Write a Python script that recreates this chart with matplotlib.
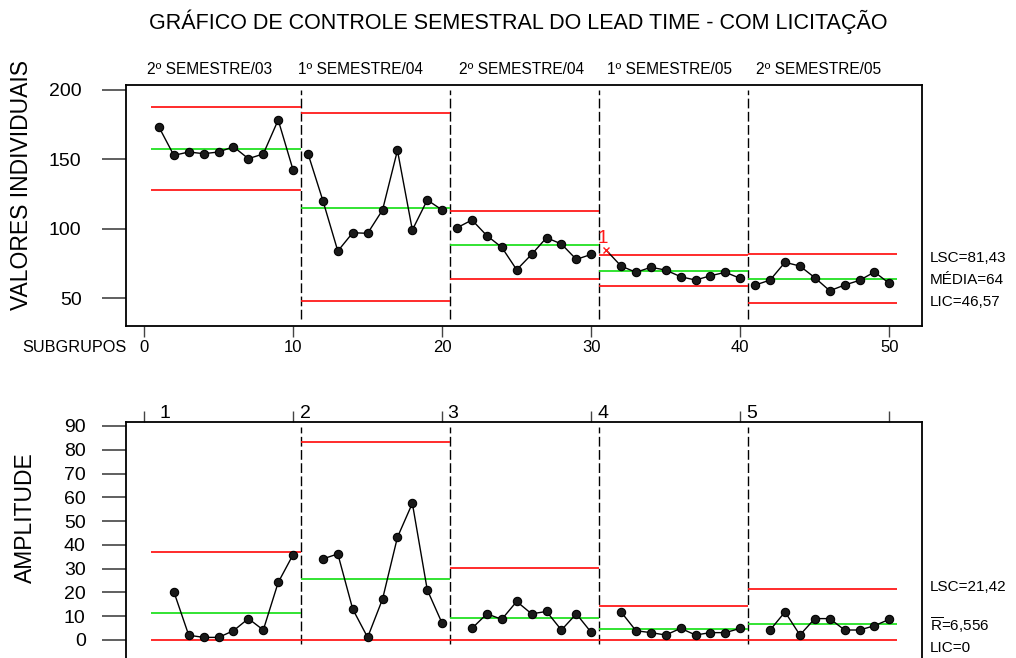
import matplotlib
matplotlib.use('Agg')
import matplotlib.pyplot as plt

plt.rcParams['font.family'] = ['Liberation Sans', 'DejaVu Sans']
plt.rcParams['mathtext.fontset'] = 'custom'
plt.rcParams['mathtext.rm'] = 'Liberation Sans'
plt.rcParams['mathtext.sf'] = 'Liberation Sans'

# ---------------- data ----------------
subgroups = list(range(1, 51))
valores = [173.3, 152.9, 155.3, 154.1, 155.3, 159.1, 150.5, 153.9, 178.4, 142.3,
           154.1, 120.2, 83.9, 97.1, 96.7, 113.5, 156.5, 99.1, 120.7, 113.5,
           100.7, 106.3, 95.0, 86.6, 70.4, 81.5, 93.5, 89.0, 77.9, 81.5,
           84.6, 73.1, 68.6, 72.2, 70.2, 65.4, 63.0, 66.1, 68.6, 64.2,
           59.4, 63.0, 75.8, 73.1, 64.7, 55.3, 59.4, 62.8, 68.8, 60.6]
amplitude = [None, 20.3, 2.0, 1.1, 1.1, 3.9, 9.0, 4.2, 24.2, 35.9,
             None, 34.1, 36.2, 13.0, 1.1, 17.2, 43.2, 57.5, 21.1, 7.0,
             None, 4.9, 11.0, 8.7, 16.2, 11.0, 12.0, 4.2, 11.0, 3.2,
             None, 11.8, 3.9, 3.1, 2.1, 4.9, 2.1, 3.1, 3.1, 4.9,
             None, 4.2, 11.8, 2.1, 9.0, 9.0, 4.2, 4.2, 6.0, 8.7]
seg_start = [1, 11, 21, 31, 41]
seg_end = [10, 20, 30, 40, 50]
lsc_i = [187.5, 183.2, 112.5, 81.4, 81.43]
media_i = [157.2, 115.1, 88.2, 69.7, 64.0]
lic_i = [127.9, 47.9, 63.7, 58.5, 46.57]
lsc_r = [37.0, 83.4, 30.1, 14.4, 21.42]
media_r = [11.3, 25.6, 9.4, 4.5, 6.556]
lic_r = [0, 0, 0, 0, 0]
fora_controle = [31]
semestres = ['2º SEMESTRE/03', '1º SEMESTRE/04', '2º SEMESTRE/04',
             '1º SEMESTRE/05', '2º SEMESTRE/05']
fases = ['1', '2', '3', '4', '5']
x_ticks = [0, 10, 20, 30, 40, 50]
y_ticks_i = [50, 100, 150, 200]
y_ticks_r = [0, 10, 20, 30, 40, 50, 60, 70, 80, 90]

W, H = 1016, 658
fig = plt.figure(figsize=(W / 100, H / 100), dpi=100)


def fx(x):
    return x / W


def fy(y):
    return 1 - y / H


RED = '#ff1a1a'
GREEN = '#22e022'
TICKC = '#444444'

ax1 = fig.add_axes([fx(126), fy(325.7), fx(921.7 - 126), (325.7 - 85) / H])
ax2 = fig.add_axes([fx(126), 0.0, fx(921.7 - 126), (658 - 421.7) / H])

for ax in (ax1, ax2):
    ax.set_xlim(-1.21, 52.17)
    for sp in ax.spines.values():
        sp.set_linewidth(1.3)

ax1.set_ylim(30.1, 203.6)
ax2.set_ylim(-7.57, 91.8)
ax2.spines['bottom'].set_visible(False)


def draw_segments(ax, values, ucl, cl, lcl):
    for k in range(5):
        s, e = seg_start[k], seg_end[k]
        xs = [x for x in subgroups[s - 1:e] if values[x - 1] is not None]
        ys = [values[x - 1] for x in xs]
        ax.plot(xs, ys, color='black', lw=1.0, zorder=3)
        mx = [x for x in xs if not (ax is ax1 and x in fora_controle)]
        my = [values[x - 1] for x in mx]
        ax.plot(mx, my, ls='none', marker='o', ms=6, mfc='#1a1a1a',
                mec='black', mew=0.8, zorder=4)
        ax.hlines(ucl[k], s - 0.5, e + 0.5, colors=RED, lw=1.3, zorder=2)
        ax.hlines(lcl[k], s - 0.5, e + 0.5, colors=RED, lw=1.3, zorder=2)
        ax.hlines(cl[k], s - 0.5, e + 0.5, colors=GREEN, lw=1.3, zorder=2)


draw_segments(ax1, valores, lsc_i, media_i, lic_i)
draw_segments(ax2, amplitude, lsc_r, media_r, lic_r)

for x in fora_controle:
    ax1.plot([x], [valores[x - 1]], ls='none', marker='x', ms=4.5,
             color=RED, mew=1.0, zorder=5)
    ax1.text(x - 0.25, valores[x - 1] + 2.5, '1', color=RED, fontsize=13.5,
             ha='center', va='bottom')

for b in seg_end[:-1]:
    ax1.vlines(b + 0.5, 34.9, 200, colors='black', lw=1.0,
               linestyles=(0, (7, 2.5)), zorder=1)
    ax2.vlines(b + 0.5, -1.5, 89.6, colors='black', lw=1.0,
               linestyles=(0, (7, 2.5)), zorder=1)

# ticks
ax1.set_xticks(x_ticks)
ax1.set_xticklabels([str(t) for t in x_ticks], fontsize=12)
ax1.set_yticks(y_ticks_i)
ax1.set_yticklabels([str(t) for t in y_ticks_i], fontsize=14)
ax1.tick_params(axis='x', direction='out', length=8, width=1.0,
                color=TICKC, pad=2)
ax1.tick_params(axis='y', direction='out', length=17, width=1.2,
                color=TICKC, pad=15)

ax2.xaxis.tick_top()
ax2.set_xticks(x_ticks)
ax2.set_xticklabels([''] * len(x_ticks))
ax2.set_yticks(y_ticks_r)
ax2.set_yticklabels([str(t) for t in y_ticks_r], fontsize=14)
ax2.tick_params(axis='x', direction='out', length=8, width=1.0,
                color=TICKC)
ax2.tick_params(axis='y', direction='out', length=17, width=1.2,
                color=TICKC, pad=12)

# texts
fig.text(fx(518), fy(22), 'GRÁFICO DE CONTROLE SEMESTRAL DO LEAD TIME - COM LICITAÇÃO',
         ha='center', va='center', fontsize=15.5)
for lab, px in zip(semestres, [147, 298, 459, 607, 756]):
    fig.text(fx(px), fy(70), lab, ha='left', va='center', fontsize=11.2)
for lab, px in zip(fases, [165, 305, 453, 603, 752]):
    fig.text(fx(px), fy(413), lab, ha='center', va='center', fontsize=14)

fig.text(fx(22), fy(185), 'VALORES INDIVIDUAIS', rotation=90,
         ha='center', va='center', fontsize=16.5)
fig.text(fx(25), fy(518), 'AMPLITUDE', rotation=90,
         ha='center', va='center', fontsize=16.5)
fig.text(fx(127), fy(347), 'SUBGRUPOS', ha='right', va='center', fontsize=11.7)

fig.text(fx(930), fy(258), 'LSC=81,43', ha='left', va='center', fontsize=11)
fig.text(fx(930), fy(280), 'MÉDIA=64', ha='left', va='center', fontsize=11)
fig.text(fx(930), fy(302), 'LIC=46,57', ha='left', va='center', fontsize=11)
fig.text(fx(930), fy(587), 'LSC=21,42', ha='left', va='center', fontsize=11)
fig.text(fx(930), fy(625), r'$\overline{\mathrm{R}}$=6,556', ha='left',
         va='center', fontsize=11)
fig.text(fx(930), fy(648), 'LIC=0', ha='left', va='center', fontsize=11)

fig.savefig('out.png', dpi=100)
